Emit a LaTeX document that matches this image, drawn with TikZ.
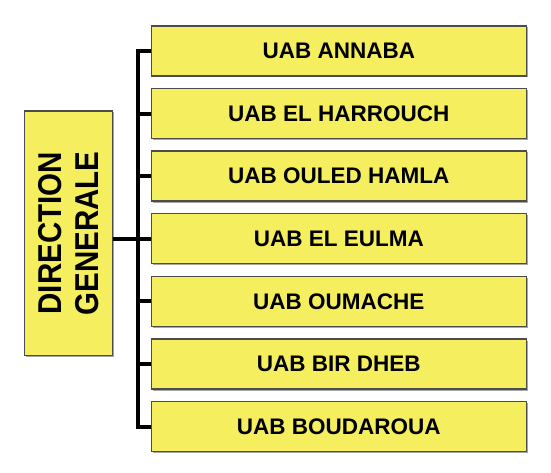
\documentclass[tikz,border=0pt]{standalone}
\usepackage{fontspec}
\setmainfont{Liberation Sans}
\begin{document}
\begin{tikzpicture}[x=1pt,y=-1pt,
  box/.style={draw=black!70, line width=1.3pt, fill=boxyellow, minimum width=375pt, minimum height=50pt, inner sep=0pt, font=\bfseries\fontsize{22.5}{25}\selectfont},
  dgbox/.style={draw=black!70, line width=1.3pt, fill=boxyellow, minimum width=87.5pt, minimum height=244.5pt, inner sep=0pt},
  conn/.style={line width=4pt, black},
  shad/.style={line width=4pt, black!35}
]
\definecolor{boxyellow}{HTML}{F5EF5F}
\useasboundingbox (0,0) rectangle (551,473);
% shadows of boxes
\foreach \yy in {51,113.7,176,238.7,301.3,364,426.7}{
  \fill[black!35] (152.5,\yy-23.5) rectangle (528,\yy+26.5);
}
\fill[black!35] (26,112.5) rectangle (113.8,357.2);
% nodes
\node[dgbox] (dg) at (68.5,233.3) {};
\node[rotate=90, font=\bfseries\fontsize{29.5}{36.6}\selectfont, align=center] (dgt) at (68.5,233.3) {\scalebox{1}[1.12]{DIRECTION}\\\scalebox{1}[1.12]{GENERALE}};
\node[box] (b1) at (338.8,51) {UAB ANNABA};
\node[box] (b2) at (338.8,113.7) {UAB EL HARROUCH};
\node[box] (b3) at (338.8,176) {UAB OULED HAMLA};
\node[box] (b4) at (338.8,238.7) {UAB EL EULMA};
\node[box] (b5) at (338.8,301.3) {UAB OUMACHE};
\node[box] (b6) at (338.8,364) {UAB BIR DHEB};
\node[box] (b7) at (338.8,426.7) {UAB BOUDAROUA};
\coordinate (tt) at (138,51);
\coordinate (tb) at (138,426.7);
% connectors
\draw[conn] ([xshift=-2pt]tt) -- (b1.west);
\draw[conn] (tt) -- (tb);
\draw[conn] ([xshift=-2pt]tb) -- (b7.west);
\foreach \i in {2,3,5,6}{
  \draw[conn] (tt |- b\i.west) -- (b\i.west);
}
\draw[conn] (dg.east |- b4.west) -- (b4.west);
\end{tikzpicture}
\end{document}
